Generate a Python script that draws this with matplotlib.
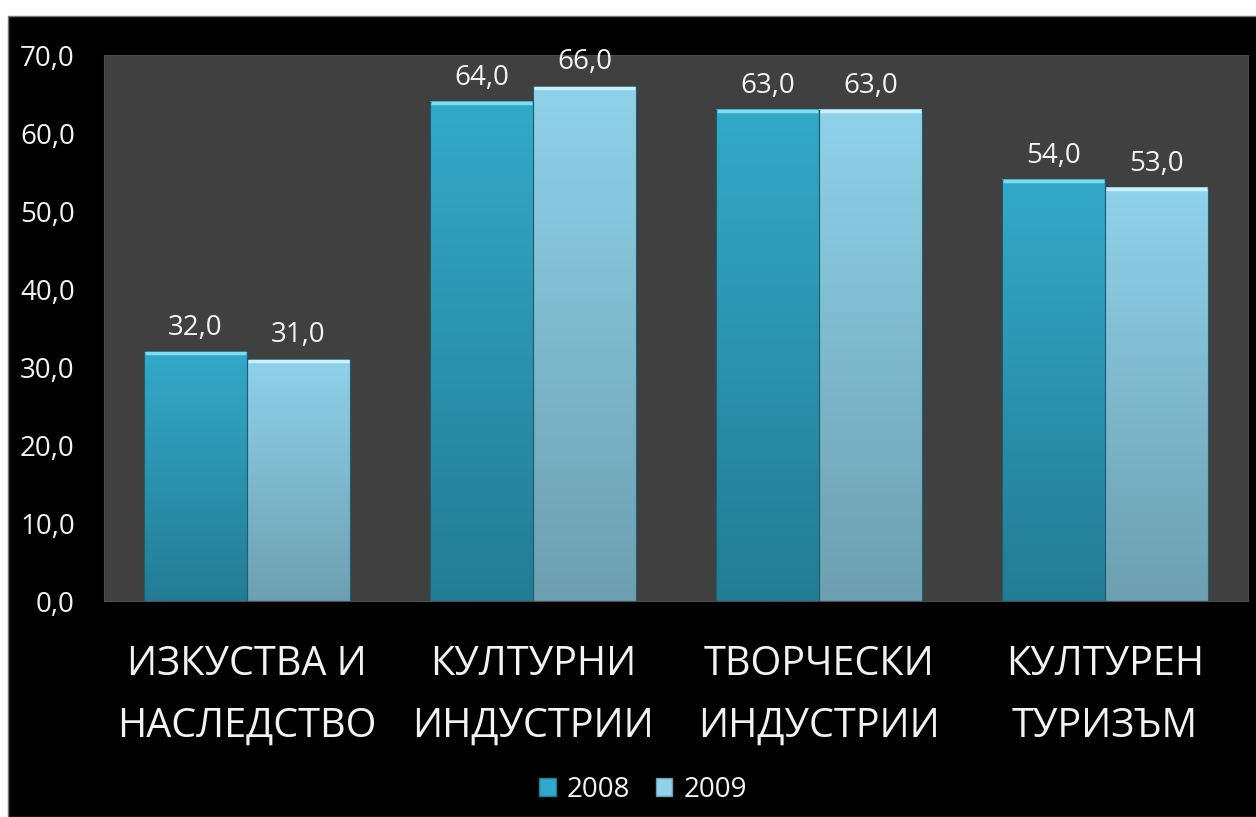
import numpy as np
import matplotlib.pyplot as plt
from matplotlib.patches import Rectangle, Patch
from matplotlib.colors import LinearSegmentedColormap

# ==============================================================================
# Data
#
categories = ['ИЗКУСТВА И\nНАСЛЕДСТВО', 'КУЛТУРНИ\nИНДУСТРИИ',
              'ТВОРЧЕСКИ\nИНДУСТРИИ', 'КУЛТУРЕН\nТУРИЗЪМ']
series_names = ['2008', '2009']
values_2008 = [32.0, 64.0, 63.0, 54.0]
values_2009 = [31.0, 66.0, 63.0, 53.0]
y_ticks = [0, 10, 20, 30, 40, 50, 60, 70]

# ==============================================================================
# Style
#
FONT = ['Open Sans', 'DejaVu Sans']
PLOT_BG = '#404040'
TEXT_COLOR = '#f2f2f2'
BAR_WIDTH = 0.36
# (top colour, bottom colour, bevel colour)
SERIES_STYLE = [
    ('#33a9c9', '#237c94', '#7fdcef'),
    ('#8fd2ea', '#6d9fb0', '#c9f0fb'),
]

def fmt(v):
    return ('%.1f' % v).replace('.', ',')

plt.rcParams['font.family'] = FONT

fig = plt.figure(figsize=(12.56, 8.17), dpi=100, facecolor='white')
fig.patches.append(Rectangle((8/1256, 0), 1, 1 - 16/817, transform=fig.transFigure,
                             facecolor='black', edgecolor='#777777', lw=1, zorder=-1))
ax = fig.add_axes([104/1256, 1 - 601/817, 1144/1256, 546/817])
ax.set_facecolor(PLOT_BG)
for s in ax.spines.values():
    s.set_color('#4c4c4c')

x = np.arange(len(categories))
offsets = [-BAR_WIDTH/2, BAR_WIDTH/2]
gradient = np.linspace(0, 1, 256).reshape(-1, 1)

for values, off, (top, bottom, bevel) in zip([values_2008, values_2009], offsets, SERIES_STYLE):
    cmap = LinearSegmentedColormap.from_list('g', [bottom, top])
    bars = ax.bar(x + off, values, BAR_WIDTH, color='none', edgecolor='#1d5f70', lw=0.8, zorder=3)
    for b, v in zip(bars, values):
        bx, bw, bh = b.get_x(), b.get_width(), b.get_height()
        ax.imshow(gradient, extent=[bx, bx + bw, 0, bh], origin='lower',
                  cmap=cmap, aspect='auto', zorder=2)
        ax.hlines(bh - 0.2, bx + 0.005, bx + bw - 0.005, color=bevel, lw=2.5, zorder=4)
        ax.annotate(fmt(v), (bx + bw/2, bh), xytext=(0, 7), textcoords='offset points',
                    ha='center', va='bottom', color=TEXT_COLOR, fontsize=20)

ax.set_xlim(-0.5, len(categories) - 0.5)
ax.set_ylim(0, 70)
ax.set_yticks(y_ticks)
ax.set_yticklabels([fmt(t) for t in y_ticks])
ax.set_xticks(x)
ax.set_xticklabels(categories, fontsize=28.5, linespacing=1.72)
ax.tick_params(axis='x', length=0, pad=31, colors=TEXT_COLOR)
ax.tick_params(axis='y', length=0, pad=21, colors=TEXT_COLOR, labelsize=20)

handles = [Patch(facecolor=s[0], edgecolor=s[1]) for s in SERIES_STYLE]
fig.legend(handles, series_names, loc='center', bbox_to_anchor=(643/1256, 1 - 790/817),
           ncol=2, frameon=False, fontsize=20, labelcolor=TEXT_COLOR,
           handlelength=0.6, handleheight=0.6, handletextpad=0.4, columnspacing=0.9)

fig.savefig('out.png', dpi=100, facecolor=fig.get_facecolor())
